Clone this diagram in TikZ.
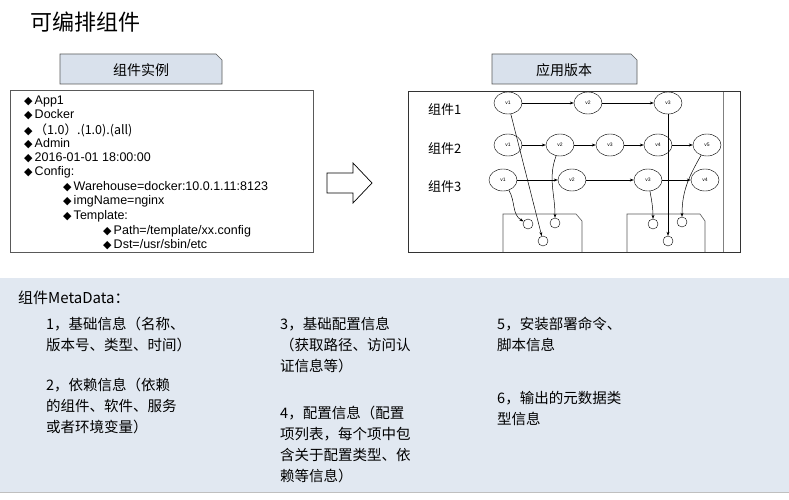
\documentclass[tikz,border=0pt]{standalone}
\usepackage{fontspec}
\setmainfont{Liberation Sans}
\newfontfamily\cjk{Noto Sans CJK SC}
\newfontfamily\dv{DejaVu Sans}
\usetikzlibrary{shapes.geometric,arrows.meta}
\definecolor{tabfill}{HTML}{D9E1EC}
\definecolor{panel}{HTML}{E1E8F1}
\begin{document}
\begin{tikzpicture}[x=1pt,y=-1pt,
  tab/.style={draw=gray!70!black,fill=tabfill,line width=0.6pt},
  li/.style={anchor=west,inner sep=0pt,font=\fontsize{12.5}{13}\selectfont},
  ver/.style={draw,ellipse,minimum width=28pt,minimum height=22pt,inner sep=0pt,font=\fontsize{5}{5}\selectfont},
  sc/.style={draw,circle,minimum size=10pt,inner sep=0pt},
  ed/.style={-{Stealth[length=4pt]},line width=0.5pt},
  mt/.style={anchor=north west,inner sep=0pt,align=left,font=\cjk\fontsize{14.5}{21}\selectfont}]
\useasboundingbox (0,0) rectangle (789,500);
\node[anchor=west,inner sep=0pt,font=\cjk\fontsize{22}{24}\selectfont] (title) at (30,22) {可编排组件};
% left tab
\draw[tab] (60,84) -- (60,54) -- (216,54) -- (222,60) -- (222,84) -- cycle;
\node[font=\cjk\fontsize{14}{16}\selectfont] (t1) at (141,70) {组件实例};
\draw[gray!70!black,line width=0.6pt] (10,90) rectangle (313,252);
\foreach \y/\x/\t [count=\i] in {101/24/App1,115/24/Docker,130/24/{（1.0）.(1.0).(all)},144/24/Admin,158/24/{2016-01-01 18:00:00},172/24/Config:,187/63/{Warehouse=docker:10.0.1.11:8123},201/63/imgName=nginx,216/63/Template:,231/103/{Path=/template/xx.config},245/103/{Dst=/usr/sbin/etc}}
  \node[li] (l\i) at (\x,\y) {{\dv\fontsize{11}{11}\selectfont ◆}\,{\ifnum\i=3 \cjk\fi\t}};
% hollow arrow
\draw[line width=0.7pt,fill=white] (327,173) -- (353,173) -- (353,163) -- (372,183) -- (353,203) -- (353,193) -- (327,193) -- cycle;
% right tab
\draw[tab] (492,84) -- (492,54) -- (631,54) -- (637,60) -- (637,84) -- cycle;
\node[font=\cjk\fontsize{14}{16}\selectfont] (t2) at (564,70) {应用版本};
\draw[black!80,line width=1pt] (408,92) rectangle (740,252);
\draw[gray] (723,92) -- (723,252);
\foreach \n/\y in {1/110,2/149,3/187}
  \node[anchor=west,inner sep=0pt,font=\cjk\fontsize{13}{14}\selectfont] (g\n) at (428,\y) {组件\n};
\node[ver] (a1) at (508,103) {v1};
\node[ver] (a2) at (588,103) {v2};
\node[ver] (a3) at (668,103) {v3};
\node[ver] (b1) at (508,145) {v1};
\node[ver] (b2) at (560,145) {v2};
\node[ver] (b3) at (610,145) {v3};
\node[ver] (b4) at (658,145) {v4};
\node[ver] (b5) at (707,145) {v5};
\node[ver] (c1) at (503,180) {v1};
\node[ver] (c2) at (572,180) {v2};
\node[ver] (c3) at (648,180) {v3};
\node[ver] (c4) at (705,180) {v4};
\draw[ed] (a1) -- (a2); \draw[ed] (a2) -- (a3);
\draw[ed] (b1) -- (b2); \draw[ed] (b2) -- (b3); \draw[ed] (b3) -- (b4); \draw[ed] (b4) -- (b5);
\draw[ed] (c1) -- (c2); \draw[ed] (c2) -- (c3); \draw[ed] (c3) -- (c4);
% boxes
\draw[gray!70!black,line width=0.6pt] (503,252) -- (503,214) -- (576,214) -- (582,221) -- (582,252);
\draw[gray!70!black,line width=0.6pt] (627,252) -- (627,214) -- (700,214) -- (705,221) -- (705,252);
\node[sc] (p1) at (528,224) {};
\node[sc] (p2) at (555,223) {};
\node[sc] (p3) at (543,241) {};
\node[sc] (q1) at (653,224) {};
\node[sc] (q2) at (682,222) {};
\node[sc] (q3) at (668,241) {};
\draw[ed] (a1) -- (p3);
\draw[ed] (c1) to[out=-60,in=150] (p1);
\draw[ed] (b2) to[out=-110,in=90] (p2);
\draw[ed] (c3) to[out=-80,in=90] (q1);
\draw[ed] (b5) to[out=-120,in=90] (q2);
\draw[ed] (a3) -- (q3);
% panel
\fill[panel] (0,278) rectangle (789,492);
\draw[gray!50] (0,492) -- (789,492);
\node[anchor=west,inner sep=0pt,font=\cjk\fontsize{15}{17}\selectfont] (md) at (18,298) {组件MetaData：};
\node[mt] (m1) at (46,317) {1，基础信息（名称、\\版本号、类型、时间）};
\node[mt] (m2) at (46,378) {2，依赖信息（依赖\\的组件、软件、服务\\或者环境变量）};
\node[mt] (m3) at (280,317) {3，基础配置信息\\（获取路径、访问认\\证信息等）};
\node[mt] (m4) at (280,406) {4，配置信息（配置\\项列表，每个项中包\\含关于配置类型、依\\赖等信息）};
\node[mt] (m5) at (497,317) {5，安装部署命令、\\脚本信息};
\node[mt] (m6) at (497,391) {6，输出的元数据类\\型信息};
\end{tikzpicture}
\end{document}
